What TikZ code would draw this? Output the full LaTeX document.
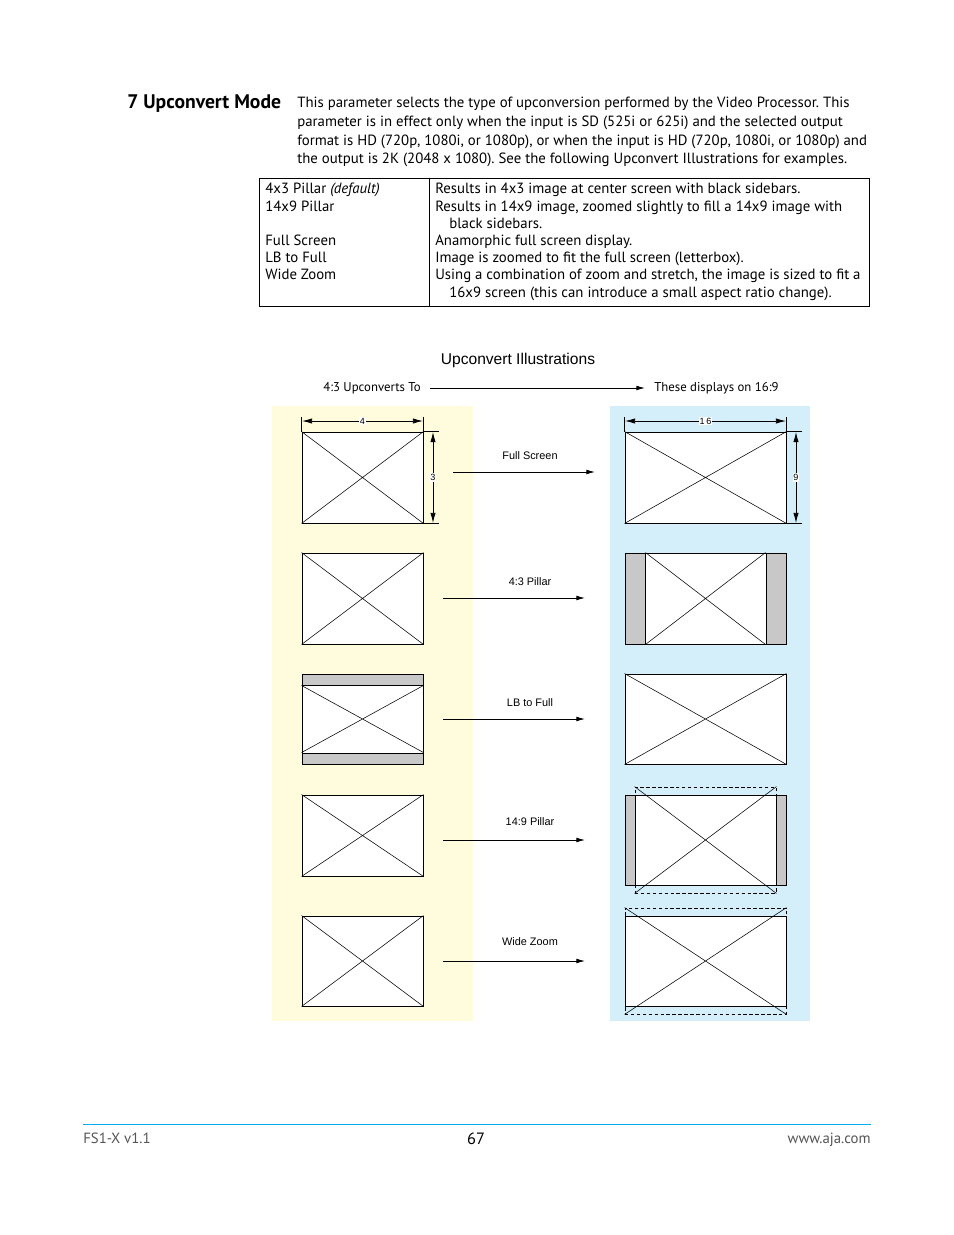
\documentclass[tikz,border=0pt]{standalone}
\usepackage{fontspec}
\setmainfont{PT Sans}
\newfontfamily\helv{Liberation Sans}
\usetikzlibrary{arrows.meta,positioning,fit,calc}
\definecolor{padYellow}{RGB}{255,252,221}
\definecolor{padBlue}{RGB}{212,238,250}
\definecolor{barGray}{RGB}{200,200,200}
\definecolor{ruleCyan}{RGB}{0,174,239}
\definecolor{footGray}{RGB}{85,85,85}
\frenchspacing

\begin{document}
\begin{tikzpicture}[x=0.6415pt,y=-0.6415pt,
    screen/.style={draw=black, line width=0.6pt, fill=white, inner sep=0pt},
    bar/.style={draw=black, line width=0.6pt, fill=barGray, inner sep=0pt},
    zoomframe/.style={draw=black, dashed, dash pattern=on 2.2pt off 1.6pt, line width=0.5pt, inner sep=0pt},
    cross/.style={line width=0.35pt},
    pad/.style={inner sep=0pt, draw=none},
    body/.style={inner sep=0pt, align=left, font=\fontsize{9.5}{12}\selectfont},
    lbl/.style={font=\helv\fontsize{7}{8}\selectfont, inner sep=0pt},
    dim/.style={font=\helv\fontsize{5.8}{6}\selectfont, fill=white, inner sep=0.6pt},
    flow/.style={line width=0.5pt, -{Latex[length=5.5pt,width=3pt]}},
    measure/.style={line width=0.5pt, {Latex[length=6.5pt,width=3.4pt]}-{Latex[length=6.5pt,width=3.4pt]}},
    ext/.style={line width=0.5pt},
    >=Stealth
  ]
  \useasboundingbox (0,0) rectangle (954,1235);
  \fill[white] (0,0) rectangle (954,1235);

  % heading and text
  \node[anchor=base west, inner sep=0pt, font=\bfseries\fontsize{12.6}{14}\selectfont] (title) at (127,108) {7 Upconvert Mode};
  \node[body, anchor=north west] (intro) at (297,97) {This parameter selects the type of upconversion performed by the Video Processor. This\\
    parameter is in effect only when the input is SD (525i or 625i) and the selected output\\
    format is HD (720p, 1080i, or 1080p), or when the input is HD (720p, 1080i, or 1080p) and\\
    the output is 2K (2048 x 1080). See the following Upconvert Illustrations for examples.};

  % mode table
  \node[draw, line width=0.6pt, inner sep=0pt, fit={(259,178) (869,306)}] (modes) {};
  \draw[line width=0.6pt] (modes.north -| 429,0) -- (modes.south -| 429,0);
  \node[body, anchor=north west, font=\fontsize{9.5}{11.03}\selectfont] (modenames) at (265,183) {4x3 Pillar \textit{(default)}\\
    14x9 Pillar\\
    \mbox{}\\
    Full Screen\\
    LB to Full\\
    Wide Zoom};
  \node[body, anchor=north west, font=\fontsize{9.5}{11.03}\selectfont] (modetext) at (435,183) {Results in 4x3 image at center screen with black sidebars.\\
    Results in 14x9 image, zoomed slightly to fill a 14x9 image with\\
    \hspace*{9pt}black sidebars.\\
    Anamorphic full screen display.\\
    Image is zoomed to fit the full screen (letterbox).\\
    Using a combination of zoom and stretch, the image is sized to fit a\\
    \hspace*{9pt}16x9 screen (this can introduce a small aspect ratio change).};

  % illustrations
  \node[font=\helv\fontsize{10}{12}\selectfont, inner sep=0pt] (illus) at (518,360) {Upconvert Illustrations};
  \node[anchor=east, inner sep=0pt, font=\fontsize{8.2}{9}\selectfont] (from) at (421,388) {4:3 Upconverts To};
  \node[anchor=west, inner sep=0pt, font=\fontsize{8.2}{9}\selectfont] (to) at (654,388) {These displays on 16:9};
  \draw[flow, shorten <=5.8pt, shorten >=5.8pt] (from.east) -- (to.west);

  \node[pad, fill=padYellow, fit={(272,406) (473,1021)}] (srcpad) {};
  \node[pad, fill=padBlue, fit={(610,406) (810,1021)}] (dstpad) {};

  % 4:3 sources
  \node[screen, fit={(302,432) (423,523)}] (srcA) {};
  \node[screen, fit={(302,553) (423,644)}] (srcB) {};
  \node[screen, fit={(302,674) (423,764)}] (srcC) {};
  \node[bar, fit={(302,674) (423,685)}] (srcCtop) {};
  \node[bar, fit={(302,753) (423,764)}] (srcCbot) {};
  \node[screen, fit={(302,795) (423,876)}] (srcD) {};
  \node[screen, fit={(302,916) (423,1006)}] (srcE) {};
  \draw[cross] (srcA.north west) -- (srcA.south east) (srcA.north east) -- (srcA.south west);
  \draw[cross] (srcB.north west) -- (srcB.south east) (srcB.north east) -- (srcB.south west);
  \draw[cross] (srcCtop.south west) -- (srcCbot.north east) (srcCtop.south east) -- (srcCbot.north west);
  \draw[cross] (srcD.north west) -- (srcD.south east) (srcD.north east) -- (srcD.south west);
  \draw[cross] (srcE.north west) -- (srcE.south east) (srcE.north east) -- (srcE.south west);

  % 16:9 displays
  \node[screen, fit={(625,432) (786,523)}] (dstA) {};
  \node[screen, fit={(625,553) (786,644)}] (dstB) {};
  \node[bar, fit={(625,553) (645,644)}] (dstBleft) {};
  \node[bar, fit={(766,553) (786,644)}] (dstBright) {};
  \node[screen, fit={(625,674) (786,764)}] (dstC) {};
  \node[screen, fit={(625,795) (786,885)}] (dstD) {};
  \node[bar, fit={(625,795) (635,885)}] (dstDleft) {};
  \node[bar, fit={(776,795) (786,885)}] (dstDright) {};
  \node[zoomframe, fit={(635,787) (776,893)}] (dstDzoom) {};
  \node[screen, fit={(625,916) (786,1006)}] (dstE) {};
  \node[zoomframe, fit={(625,908) (786,1014)}] (dstEzoom) {};
  \draw[cross] (dstA.north west) -- (dstA.south east) (dstA.north east) -- (dstA.south west);
  \draw[cross] (dstBleft.north east) -- (dstBright.south west) (dstBright.north west) -- (dstBleft.south east);
  \draw[cross] (dstC.north west) -- (dstC.south east) (dstC.north east) -- (dstC.south west);
  \draw[cross] (dstDzoom.north west) -- (dstDzoom.south east) (dstDzoom.north east) -- (dstDzoom.south west);
  \draw[cross] (dstEzoom.north west) -- (dstEzoom.south east) (dstEzoom.north east) -- (dstEzoom.south west);

  % dimensions
  \draw[ext] (srcA.north west) -- ++(0,-15) (srcA.north east) -- ++(0,-15);
  \draw[ext] (srcA.north east) -- ++(16,0) (srcA.south east) -- ++(16,0);
  \coordinate (wa) at (302,421);
  \coordinate (wb) at (423,421);
  \coordinate (ha) at (433,432);
  \coordinate (hb) at (433,523);
  \draw[measure] (wa) -- (wb);
  \draw[measure] (ha) -- (hb);
  \node[dim] (srcW) at ($(wa)!0.5!(wb)$) {4};
  \node[dim] (srcH) at ($(ha)!0.5!(hb)$) {3};
  \draw[ext] (dstA.north west) -- ++(0,-15) (dstA.north east) -- ++(0,-15);
  \draw[ext] (dstA.north east) -- ++(16,0) (dstA.south east) -- ++(16,0);
  \coordinate (wc) at (625,421);
  \coordinate (wd) at (786,421);
  \coordinate (hc) at (796,432);
  \coordinate (hd) at (796,523);
  \draw[measure] (wc) -- (wd);
  \draw[measure] (hc) -- (hd);
  \node[dim] (dstW) at ($(wc)!0.5!(wd)$) {1\,6};
  \node[dim] (dstH) at ($(hc)!0.5!(hd)$) {9};

  % conversion arrows
  \coordinate (goA) at (453,472); \coordinate (endA) at (595,472);
  \coordinate (goB) at (443,598); \coordinate (endB) at (585,598);
  \coordinate (goC) at (443,719); \coordinate (endC) at (585,719);
  \coordinate (goD) at (443,840); \coordinate (endD) at (585,840);
  \coordinate (goE) at (443,961); \coordinate (endE) at (585,961);
  \draw[flow] (goA) -- (endA);
  \draw[flow] (goB) -- (endB);
  \draw[flow] (goC) -- (endC);
  \draw[flow] (goD) -- (endD);
  \draw[flow] (goE) -- (endE);
  \node[lbl] (fullscreen) at (530,456) {Full Screen};
  \node[lbl] (pillar43) at (530,582) {4:3 Pillar};
  \node[lbl] (lbfull) at (530,703) {LB to Full};
  \node[lbl] (pillar149) at (530,822) {14:9 Pillar};
  \node[lbl] (widezoom) at (530,942) {Wide Zoom};

  % footer
  \coordinate (ruleL) at (83,1124);
  \coordinate (ruleR) at (871,1124);
  \draw[ruleCyan, line width=0.6pt] (ruleL) -- (ruleR);
  \node[anchor=base west, inner sep=0pt, text=footGray, font=\fontsize{9.5}{11}\selectfont] (doc) at (83,1143) {FS1-X v1.1};
  \node[anchor=base, inner sep=0pt, font=\fontsize{10.5}{12}\selectfont] (page) at (476,1144) {67};
  \node[anchor=base east, inner sep=0pt, text=footGray, font=\fontsize{9.5}{11}\selectfont] (site) at (871,1143) {www.aja.com};
\end{tikzpicture}
\end{document}
